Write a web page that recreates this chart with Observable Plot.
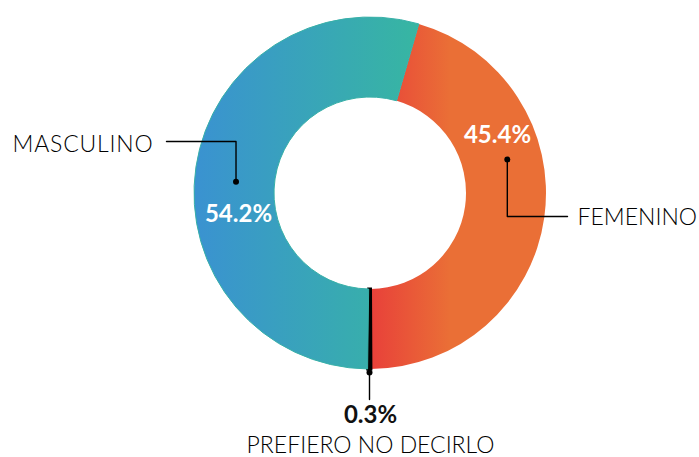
<!DOCTYPE html>
<html><head><meta charset="utf-8">
<script src="https://cdn.jsdelivr.net/npm/d3@7"></script>
<script src="https://cdn.jsdelivr.net/npm/@observablehq/plot@0.6"></script>
<style>html,body{margin:0;padding:0;background:#fff;} svg{display:block;}</style>
</head><body><div id="chart"></div>
<script>
// Data
const categories = ["FEMENINO", "PREFIERO NO DECIRLO", "MASCULINO"];
const values = [45.4, 0.3, 54.2];
const valueLabels = ["45.4%", "0.3%", "54.2%"];

// Layout (pixel units relative to donut center)
const W = 699, H = 457;
const cx = 370, cy = 193;
const R = 176, r = 96;
const startAngle = 16.1 * Math.PI / 180;

const pie = d3.pie().sort(null).value(d => d.value)
  .startAngle(startAngle).endAngle(startAngle + 2 * Math.PI);
const rows = categories.map((c, i) => ({category: c, value: values[i], label: valueLabels[i]}));
const arcs = pie(rows);

const polar = (deg, rad) => {
  const a = deg * Math.PI / 180;
  return [Math.sin(a) * rad, -Math.cos(a) * rad];
};

const fem = arcs[0], pnd = arcs[1], mas = arcs[2];
const femDot = polar(76, 141);
const masDot = polar(275, 135);
const pndDot = [-1, R + 3];

const leaders = [
  {g: "m", x: -204, y: -52}, {g: "m", x: masDot[0], y: -52}, {g: "m", x: masDot[0], y: masDot[1]},
  {g: "f", x: femDot[0], y: femDot[1]}, {g: "f", x: femDot[0], y: 23}, {g: "f", x: 197, y: 23},
  {g: "p", x: pndDot[0], y: pndDot[1]}, {g: "p", x: pndDot[0], y: 206}
];
const dots = [
  {x: masDot[0], y: masDot[1]}, {x: femDot[0], y: femDot[1]}, {x: pndDot[0], y: pndDot[1]}
];

const valueText = [
  {text: mas.data.label, x: -132, y: 21, fill: "white"},
  {text: fem.data.label, x: 127, y: -58, fill: "white"},
  {text: pnd.data.label, x: 0, y: 222, fill: "#111"}
];
const catLeft = [{text: mas.data.category, x: -358, y: -49}, {text: fem.data.category, x: 207, y: 24}];
const catMid = [{text: pnd.data.category, x: 0, y: 252}];

const colors = {
  "FEMENINO": "url(#gFem)",
  "PREFIERO NO DECIRLO": "#000000",
  "MASCULINO": "url(#gMas)"
};

function donutMark() {
  const sx = d3.scaleLinear().domain([-cx, W - cx]).range([0, W]);
  const sy = d3.scaleLinear().domain([-cy, H - cy]).range([0, H]);
  const ox = sx(0), oy = sy(0);
  const ns = "http://www.w3.org/2000/svg";
  const g = document.createElementNS(ns, "g");
  g.setAttribute("transform", `translate(${ox},${oy})`);
  const defs = document.createElementNS(ns, "defs");
  defs.innerHTML = `
    <linearGradient id="gMas" gradientUnits="userSpaceOnUse" x1="${-R}" y1="0" x2="${48}" y2="0">
      <stop offset="0" stop-color="#3a92d1"/><stop offset="1" stop-color="#37b6a2"/>
    </linearGradient>
    <linearGradient id="gFem" gradientUnits="userSpaceOnUse" x1="0" y1="0" x2="80" y2="0">
      <stop offset="0" stop-color="#e8403a"/><stop offset="1" stop-color="#ea6f36"/>
    </linearGradient>`;
  g.appendChild(defs);
  const arcGen = d3.arc().innerRadius(r).outerRadius(R);
  for (const a of arcs) {
    const p = document.createElementNS(ns, "path");
    p.setAttribute("d", arcGen(a));
    p.setAttribute("fill", colors[a.data.category]);
    if (a.data.category === "MASCULINO") { p.setAttribute("stroke", "#38b0a8"); p.setAttribute("stroke-width", "1"); }
    if (a.data.category === "PREFIERO NO DECIRLO") { p.setAttribute("stroke", "#000"); p.setAttribute("stroke-width", "3"); }
    g.appendChild(p);
  }
  return g;
}

const catStyle = {x: "x", y: "y", text: "text", fontSize: 23, fontWeight: 300, fontFamily: "Lato", fill: "#000"};
const plot = Plot.plot({
  width: W, height: H,
  margin: 0,
  x: {domain: [-cx, W - cx], range: [0, W], axis: null},
  y: {domain: [-cy, H - cy], range: [0, H], axis: null},
  style: {background: "white"},
  marks: [
    donutMark,
    Plot.line(leaders, {x: "x", y: "y", z: "g", stroke: "#000", strokeWidth: 1.4}),
    Plot.dot(dots, {x: "x", y: "y", r: 3, fill: "#000", stroke: null}),
    Plot.text(valueText, {x: "x", y: "y", text: "text", fill: "fill",
      fontSize: 24, fontWeight: "bold", fontFamily: "Lato", textAnchor: "middle"}),
    Plot.text(catLeft, {...catStyle, textAnchor: "start"}),
    Plot.text(catMid, {...catStyle, textAnchor: "middle"})
  ]
});
plot.querySelectorAll("text").forEach(t => {
  if (t.textContent === "MASCULINO") t.style.letterSpacing = "0.8px";
});
document.getElementById("chart").appendChild(plot);
</script>
</body></html>
